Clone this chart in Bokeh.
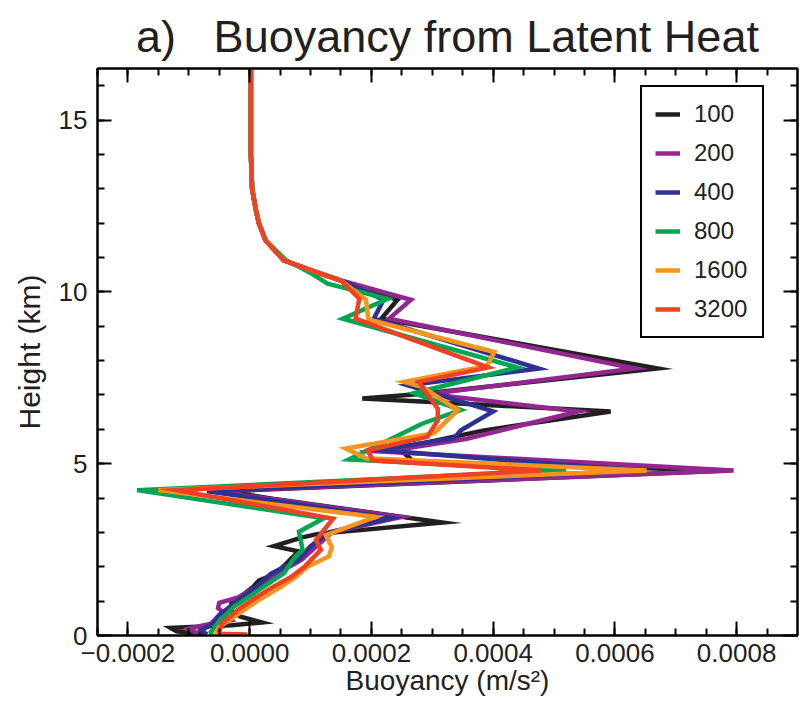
from bokeh.plotting import figure
from bokeh.models import Range1d, LinearAxis, SingleIntervalTicker, CustomJSTickFormatter, Legend, LegendItem
from bokeh.embed import file_html
from bokeh.resources import INLINE

SCALE = 1e-4  # values below are in units of 1e-4 m/s^2

# shared upper-troposphere part (height km, buoyancy 1e-4 m/s^2)
upper_h = [16.5, 15.0, 14.0, 13.0, 12.4, 12.0, 11.5]
upper_v = [0.02, 0.02, 0.02, 0.04, 0.10, 0.15, 0.26]

h_100 = [10.92, 10.63, 10.33, 9.77, 9.22, 7.77, 7.02, 6.9, 6.8, 6.52, 5.97, 5.45, 5.05, 4.8, 4.2, 3.97, 3.29,
         2.95, 2.85, 2.6, 2.45, 2.0, 1.78, 1.6, 1.4, 1.2, 0.95, 0.7, 0.55, 0.38, 0.3, 0.22, 0.12, 0.03]
v_100 = [0.56, 1.0, 1.5, 2.43, 2.16, 6.7, 2.75, 1.85, 2.9, 5.93, 3.85, 2.45, 2.7, 7.85, -0.4, 0.4, 3.17,
         1.1, 0.85, 0.4, 0.8, 0.55, 0.4, 0.15, 0.05, -0.1, -0.3, -0.3, -0.15, 0.2, -0.3, -1.3, -1.2, -0.75]

h_200 = [10.92, 10.63, 10.33, 9.77, 9.22, 7.77, 7.03, 6.52, 5.72, 5.35, 4.8, 4.2, 3.45, 3.0, 2.6, 2.2, 1.8,
         1.4, 1.1, 0.95, 0.8, 0.65, 0.45, 0.3, 0.2, 0.05]
v_200 = [0.56, 1.0, 1.5, 2.65, 2.29, 6.33, 2.95, 5.4, 3.55, 2.2, 7.95, -0.6, 2.49, 1.35, 1.1, 0.85, 0.45,
         0.1, -0.2, -0.5, -0.52, -0.42, -0.3, -0.75, -1.0, -0.85]

h_400 = [10.92, 10.63, 10.33, 9.77, 9.22, 7.77, 7.28, 6.52, 5.97, 5.74, 5.4, 4.8, 4.2, 3.42, 3.0, 2.6, 2.2,
         1.8, 1.4, 1.0, 0.6, 0.3, 0.15, 0.03]
v_400 = [0.56, 1.0, 1.5, 2.2, 2.04, 4.75, 2.6, 4.0, 3.47, 3.36, 2.1, 6.4, -0.7, 2.33, 1.3, 1.0, 0.8,
         0.35, 0.1, -0.2, -0.5, -0.65, -0.8, -0.7]

h_800 = [10.92, 10.55, 10.24, 9.8, 9.22, 7.8, 7.05, 6.56, 6.17, 5.12, 4.8, 4.23, 3.41, 3.02, 2.49, 2.3, 1.81,
         1.5, 1.2, 0.84, 0.5, 0.35, 0.1, 0.02]
v_800 = [0.6, 1.0, 1.28, 2.27, 1.53, 4.4, 2.7, 3.47, 2.84, 1.63, 5.2, -1.85, 1.22, 0.81, 0.87, 0.75, 0.56,
         0.3, 0.05, -0.26, -0.45, -0.53, -0.64, -0.62]

h_1600 = [10.92, 10.63, 10.33, 9.77, 9.2, 8.25, 7.85, 7.38, 7.23, 6.56, 5.89, 5.44, 5.16, 4.8, 4.23, 3.45,
          2.92, 2.58, 2.3, 2.0, 1.7, 1.4, 1.0, 0.55, 0.25, 0.08, 0.02]
v_1600 = [0.56, 1.0, 1.5, 1.91, 1.95, 4.02, 3.9, 2.54, 2.84, 3.42, 3.03, 1.58, 1.91, 6.52, -1.5, 2.07,
          1.25, 1.35, 1.3, 0.95, 0.75, 0.5, 0.12, -0.25, -0.5, -0.55, -0.55]

h_3200 = [10.92, 10.63, 10.33, 9.8, 9.22, 7.8, 7.38, 6.94, 6.6, 6.26, 5.78, 5.39, 5.1, 4.8, 4.23, 3.4,
          2.78, 2.49, 2.0, 1.7, 1.4, 1.1, 0.74, 0.35, 0.12, 0.05, 0.03]
v_3200 = [0.56, 1.0, 1.5, 1.8, 1.74, 3.92, 2.78, 2.95, 3.09, 3.09, 2.92, 1.94, 2.02, 4.79, -1.2, 1.37,
          1.09, 1.17, 0.9, 0.68, 0.37, 0.1, -0.2, -0.45, -0.5, -0.48, -0.04]

series_names = ["100", "200", "400", "800", "1600", "3200"]
series_h = [h_100, h_200, h_400, h_800, h_1600, h_3200]
series_v = [v_100, v_200, v_400, v_800, v_1600, v_3200]
colors = ["#231f20", "#92278f", "#2e3192", "#00a651", "#f7941d", "#ef4123"]

x_ticks_interval = 0.0002
y_ticks_interval = 5

FONT = "Liberation Sans"
TXT = "#231f20"

p = figure(width=803, height=701, x_range=Range1d(-0.00025, 0.0009), y_range=Range1d(0, 16.5),
           output_backend="svg", toolbar_location=None,
           min_border_left=97, min_border_right=6, min_border_top=68, min_border_bottom=66,
           x_axis_label="Buoyancy (m/s²)", y_axis_label="Height (km)")
p.background_fill_color = "white"
p.border_fill_color = "white"
p.outline_line_color = "black"
p.outline_line_width = 2
p.xgrid.visible = False
p.ygrid.visible = False

p.title.text = "a)\u00a0\u00a0\u00a0Buoyancy from Latent Heat"
p.title.text_font = FONT
p.title.text_font_size = "45px"
p.title.text_font_style = "normal"
p.title.text_color = TXT
p.title.align = "center"
p.title.standoff = 13

xt = SingleIntervalTicker(interval=x_ticks_interval, num_minor_ticks=4)
yt = SingleIntervalTicker(interval=y_ticks_interval, num_minor_ticks=5)
fmt = CustomJSTickFormatter(code="""
if (Math.abs(tick) < 1e-12) { return '0.0000'; }
return (tick < 0 ? '\u2212' : '') + Math.abs(tick).toFixed(4);
""")

def style_axis(ax, show_labels):
    ax.major_tick_in = 14
    ax.major_tick_out = 0
    ax.minor_tick_in = 7
    ax.minor_tick_out = 0
    ax.major_tick_line_width = 2
    ax.minor_tick_line_width = 2
    ax.major_tick_line_color = "black"
    ax.minor_tick_line_color = "black"
    ax.axis_line_width = 2
    ax.axis_line_color = "black"
    if show_labels:
        ax.major_label_text_font = FONT
        ax.major_label_text_font_size = "26px"
        ax.major_label_text_color = TXT
        ax.axis_label_text_font = FONT
        ax.axis_label_text_font_style = "normal"
        ax.axis_label_text_color = TXT
    else:
        ax.major_label_text_font_size = "1px"
        ax.major_label_text_color = None
        ax.major_label_standoff = 0

xa = p.xaxis[0]
xa.ticker = xt
xa.formatter = fmt
style_axis(xa, True)
xa.axis_label_text_font_size = "28px"
xa.major_label_standoff = 8
xa.axis_label_standoff = 0

ya = p.yaxis[0]
ya.ticker = yt
style_axis(ya, True)
ya.axis_label_text_font_size = "30px"
ya.major_label_standoff = 10
ya.axis_label_standoff = 10

top = LinearAxis(ticker=SingleIntervalTicker(interval=x_ticks_interval, num_minor_ticks=4))
style_axis(top, False)
p.add_layout(top, "above")
right = LinearAxis(ticker=SingleIntervalTicker(interval=y_ticks_interval, num_minor_ticks=5))
style_axis(right, False)
p.add_layout(right, "right")

items = []
for name, hh, vv, c in zip(series_names, series_h, series_v, colors):
    ys = upper_h + hh
    xs = [v * SCALE for v in upper_v + vv]
    r = p.line(xs, ys, line_color=c, line_width=4.5, line_join="miter")
    items.append(LegendItem(label=name, renderers=[r]))

legend = Legend(items=items, location=(543, 297))
legend.border_line_color = "black"
legend.border_line_width = 2
legend.border_line_alpha = 1
legend.background_fill_color = "white"
legend.background_fill_alpha = 1
legend.label_text_font = FONT
legend.label_text_font_size = "24px"
legend.label_text_color = TXT
legend.glyph_width = 25
legend.glyph_height = 26
legend.label_height = 26
legend.label_width = 55
legend.label_standoff = 14
legend.spacing = 11
legend.padding = 13
legend.margin = 0
p.add_layout(legend)

open("out.html", "w", encoding="utf-8").write(file_html(p, INLINE))
